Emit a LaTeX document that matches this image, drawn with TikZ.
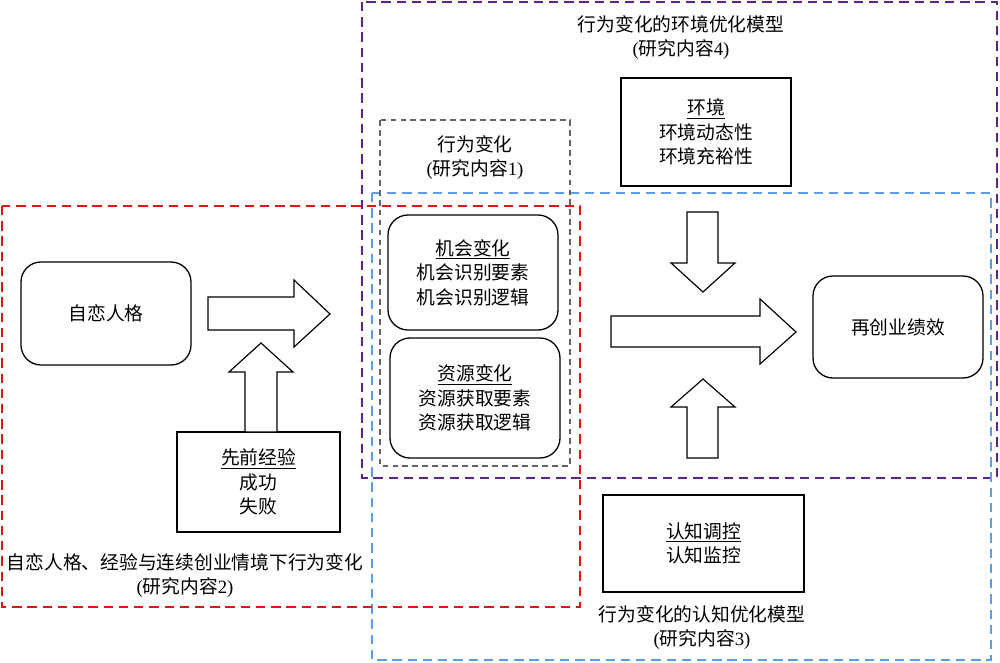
\documentclass[tikz,border=0pt]{standalone}
\usepackage{fontspec}
\setmainfont{Noto Sans CJK SC}
\newfontfamily\latfont{Liberation Serif}
\newcommand\lt[1]{{\latfont #1}}
\definecolor{cred}{RGB}{225,20,20}
\definecolor{cpurple}{RGB}{95,35,135}
\definecolor{cblue}{RGB}{95,155,230}
\definecolor{cgray}{RGB}{100,100,100}
\tikzset{
  every node/.style={font=\fontsize{16}{21}\selectfont, align=center, inner sep=0pt},
  box/.style={draw=black, line width=1.1pt, fill=white},
  rbox/.style={box, rounded corners=0.6cm},
  dbox/.style={line width=1.5pt, dash pattern=on 8pt off 5pt},
  blockarrow/.style={draw=black, line width=1pt, fill=white, line join=miter},
}
\begin{document}
\begin{tikzpicture}[x=0.03cm, y=-0.03cm]
\useasboundingbox (0,0) rectangle (1000,662);
% container frames
\draw[dbox, cpurple] (362,2) rectangle (997,478);
\draw[dbox, cblue] (372,193) rectangle (991,660);
\draw[dbox, cred] (2,206) rectangle (580,607);
\draw[cgray, line width=1.3pt, dash pattern=on 5pt off 3.5pt] (380,120) rectangle (570,466);
% frame labels
\node (lab4) at (681,37.5) {行为变化的环境优化模型\\\lt{(}研究内容\lt{4)}};
\node (lab1) at (475,157.5) {行为变化\\\lt{(}研究内容\lt{1)}};
\node (lab2) at (185,575.5) {自恋人格、经验与连续创业情境下行为变化\\\lt{(}研究内容\lt{2)}};
\node (lab3) at (702,627.5) {行为变化的认知优化模型\\\lt{(}研究内容\lt{3)}};
% boxes
\node[box, minimum width=170*0.03cm, minimum height=108*0.03cm] (env) at (706,132) {\underline{环境}\\环境动态性\\环境充裕性};
\node[rbox, minimum width=170*0.03cm, minimum height=115*0.03cm] (opp) at (473,272.5) {\underline{机会变化}\\机会识别要素\\机会识别逻辑};
\node[rbox, minimum width=170*0.03cm, minimum height=120*0.03cm] (res) at (475,398) {\underline{资源变化}\\资源获取要素\\资源获取逻辑};
\node[rbox, minimum width=170*0.03cm, minimum height=103*0.03cm] (narc) at (106,313.5) {自恋人格};
\node[box, minimum width=163*0.03cm, minimum height=100*0.03cm] (exp) at (258.5,482) {\underline{先前经验}\\成功\\失败};
\node[rbox, minimum width=170*0.03cm, minimum height=102*0.03cm] (perf) at (898,327) {再创业绩效};
\node[box, minimum width=201*0.03cm, minimum height=97*0.03cm] (cog) at (703.5,543.5) {\underline{认知调控}\\认知监控};
% block arrows
\draw[blockarrow] (208,297) -- (294,297) -- (294,280) -- (330,314) -- (294,347) -- (294,330) -- (208,330) -- cycle;
\draw[blockarrow] (245,432) -- (245,372) -- (229,372) -- (261,343) -- (293,372) -- (277,372) -- (277,432) -- cycle;
\draw[blockarrow] (687,212) -- (687,263) -- (671,263) -- (703,292) -- (735,263) -- (718,263) -- (718,212) -- cycle;
\draw[blockarrow] (611,316) -- (760,316) -- (760,299) -- (796,332) -- (760,364) -- (760,347) -- (611,347) -- cycle;
\draw[blockarrow] (687,458) -- (687,407) -- (671,407) -- (703,379) -- (735,407) -- (718,407) -- (718,458) -- cycle;
\end{tikzpicture}
\end{document}
